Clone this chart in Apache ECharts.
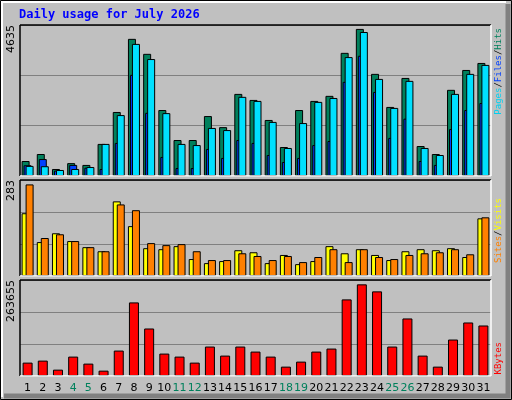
<!DOCTYPE html>
<html><head><meta charset="utf-8">
<script src="https://cdn.jsdelivr.net/npm/echarts@6/dist/echarts.min.js"></script>
<style>html,body{margin:0;padding:0;background:#c0c0c0}#c{width:512px;height:400px}</style>
</head><body><div id="c"></div>
<script>
const days = ['1','2','3','4','5','6','7','8','9','10','11','12','13','14','15','16','17','18','19','20','21','22','23','24','25','26','27','28','29','30','31'];
const weekend = ['4','5','11','12','18','19','25','26'];
const hits  = [460,675,215,395,340,985,1965,4210,3750,2025,1105,1105,1840,1500,2520,2335,1720,890,2025,2305,2460,3780,4515,3135,2120,3010,920,675,2645,3255,3470];
const files = [310,300,185,215,275,985,1870,4055,3590,1930,985,950,1475,1410,2430,2305,1660,860,1625,2275,2395,3650,4420,2980,2090,2920,860,645,2520,3135,3410];
const pages = [330,520,165,340,255,215,1015,3105,1940,585,245,245,830,555,1105,1015,645,430,555,950,1075,2890,3690,2580,1170,1760,460,340,1440,2025,2240];
const visits= [185,100,126,103,85,73,220,147,82,79,88,50,38,44,76,70,38,62,35,44,88,67,79,62,47,73,79,76,82,56,170];
const sites = [270,112,123,103,85,73,211,194,97,91,94,73,47,47,67,59,47,59,41,56,79,41,79,56,50,62,67,70,79,64,173];
const kbytes= [36750,42260,17450,53290,34000,14700,69820,202100,130460,61550,53290,36750,80850,56040,80850,67070,53290,25720,39500,67070,75330,210380,251720,232430,80850,158020,56040,25720,100140,146990,138720];
const maxHits = 4635, maxVisits = 283, maxKB = 263655;

const ch = echarts.init(document.getElementById('c'));
const font = 'DejaVu Sans';
const grids = [
  {left:20,right:21,top:25,height:151},
  {left:20,right:21,top:180,height:96},
  {left:20,right:21,top:280,height:96}
];
function yAxis(i,max){
  return {type:'value',gridIndex:i,min:0,max:max,interval:max/3,
    axisLine:{show:false},axisTick:{show:false},
    splitLine:{show:true,lineStyle:{color:'#808080',width:1}},
    axisLabel:{show:true,rotate:90,align:'right',verticalAlign:'bottom',margin:3,
      fontFamily:font,fontSize:11,color:'#000',
      formatter:v=>Math.abs(v-max)<0.5?String(max):''}};
}
function xAxis(i,labels){
  return {type:'category',gridIndex:i,data:days,
    axisLine:{show:false},axisTick:{show:false},splitLine:{show:false},
    axisLabel:{show:labels,interval:0,margin:7,fontFamily:font,fontSize:11,
      color:(v)=>weekend.includes(v)?'#00805C':'#000'}};
}
const bs = {borderColor:'#000',borderWidth:1};
function bevel(g){
  const x0=g.left,y0=g.top,x1=512-g.right,y1=g.top+g.height;
  return [
    {type:'line',shape:{x1:x0,y1:y0,x2:x1,y2:y0},style:{stroke:'#000',lineWidth:1.5},z:10},
    {type:'line',shape:{x1:x0,y1:y0,x2:x0,y2:y1},style:{stroke:'#000',lineWidth:1.5},z:10},
    {type:'line',shape:{x1:x1,y1:y0,x2:x1,y2:y1},style:{stroke:'#fff',lineWidth:1.5},z:10},
    {type:'line',shape:{x1:x0,y1:y1,x2:x1,y2:y1},style:{stroke:'#fff',lineWidth:1.5},z:10}
  ];
}
const F = '9px DejaVu Sans Mono';
function vtext(x,y,parts){
  return {type:'text',x:x,y:y,rotation:Math.PI/2,z:20,
    style:{text:parts,rich:rich,align:'right',verticalAlign:'middle',font:F}};
}
const rich = {
  p:{fill:'#00D0F0',font:F},
  f:{fill:'#0040FF',font:F},
  h:{fill:'#00805C',font:F},
  s:{fill:'#FF8000',font:F},
  v:{fill:'#FFFF00',font:F},
  k:{fill:'#FF0000',font:F},
  b:{fill:'#000',font:F}
};
ch.setOption({
  backgroundColor:'#c0c0c0',
  animation:false,
  grid:grids,
  xAxis:[xAxis(0,false),xAxis(1,false),xAxis(2,true)],
  yAxis:[yAxis(0,maxHits),yAxis(1,maxVisits),yAxis(2,maxKB)],
  series:[
    {type:'bar',name:'Hits',xAxisIndex:0,yAxisIndex:0,data:hits,barWidth:8,barGap:'-75%',itemStyle:Object.assign({color:'#00805C'},bs)},
    {type:'bar',name:'Pages',xAxisIndex:0,yAxisIndex:0,data:pages,barWidth:8,barGap:'-75%',itemStyle:Object.assign({color:'#0040FF'},bs)},
    {type:'bar',name:'Files',xAxisIndex:0,yAxisIndex:0,data:files,barWidth:8,barGap:'-75%',itemStyle:Object.assign({color:'#00E0FF'},bs)},
    {type:'bar',name:'Visits',xAxisIndex:1,yAxisIndex:1,data:visits,barWidth:8,barGap:'-50%',itemStyle:Object.assign({color:'#FFFF00'},bs)},
    {type:'bar',name:'Sites',xAxisIndex:1,yAxisIndex:1,data:sites,barWidth:8,barGap:'-50%',itemStyle:Object.assign({color:'#FF8000'},bs)},
    {type:'bar',name:'KBytes',xAxisIndex:2,yAxisIndex:2,data:kbytes,barWidth:10,itemStyle:Object.assign({color:'#FF0000'},bs)}
  ],
  graphic:[
    {type:'rect',shape:{x:0.5,y:0.5,width:511,height:399},style:{fill:'none',stroke:'#000',lineWidth:1},z:1},
    {type:'polyline',shape:{points:[[2,397],[2,2],[506,2]]},style:{fill:'none',stroke:'#fff',lineWidth:2},z:1},
    {type:'polyline',shape:{points:[[508,4],[508,396],[4,396]]},style:{fill:'none',stroke:'#808080',lineWidth:5},z:1},
    {type:'text',x:19,y:9,z:20,style:{text:'Daily usage for July 2026',fill:'#0000FF',font:'bold 12px DejaVu Sans Mono'}},
    ...bevel(grids[0]),...bevel(grids[1]),...bevel(grids[2]),
    vtext(499,28,'{p|Pages}{b|/}{f|Files}{b|/}{h|Hits}'),
    vtext(499,198,'{s|Sites}{b|/}{v|Visits}'),
    vtext(499,342,'{k|KBytes}')
  ]
});
</script></body></html>
